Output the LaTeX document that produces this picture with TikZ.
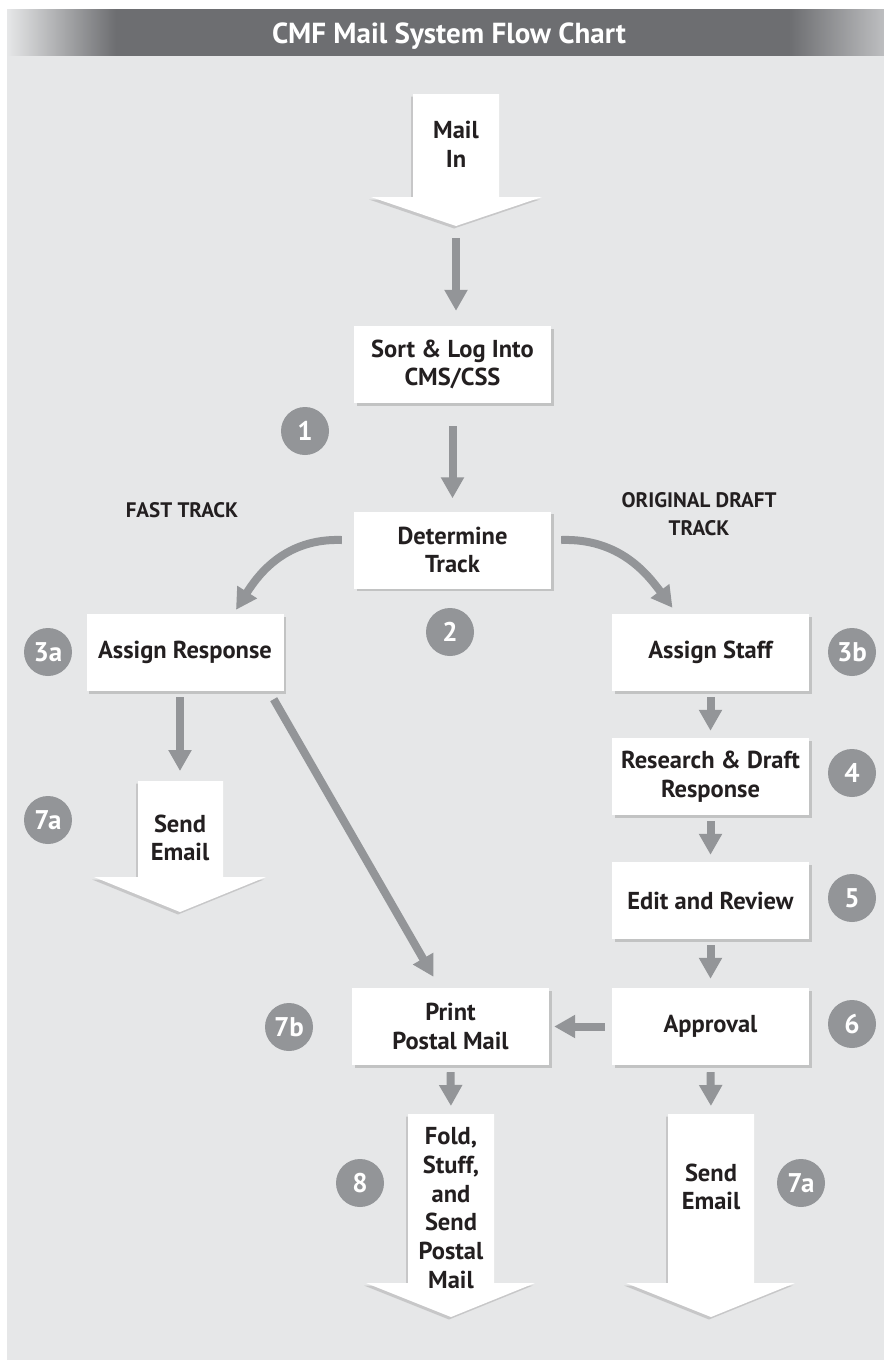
\documentclass[tikz,border=0pt]{standalone}
\usepackage{fontspec}
\setmainfont{PT Sans}
\usetikzlibrary{arrows.meta,shadows}
\definecolor{panelgray}{HTML}{E6E7E8}
\definecolor{bargray}{HTML}{6D6E71}
\definecolor{barend}{HTML}{BDBEC0}
\definecolor{flowgray}{HTML}{939598}
\definecolor{inkblack}{HTML}{231F20}
\pgfdeclarehorizontalshading{titlebar}{100bp}{color(0bp)=(panelgray); color(25bp)=(panelgray);
  color(31.2bp)=(bargray); color(69.6bp)=(bargray); color(75bp)=(barend); color(100bp)=(barend)}
\tikzset{
  box/.style={fill=white, minimum width=197pt, minimum height=77pt, inner sep=2pt, align=center, text=inkblack,
    font=\bfseries\fontsize{24.5}{28.5}\selectfont, drop shadow={shadow xshift=2.5pt,shadow yshift=-2.5pt,opacity=.35}},
  bigarrow/.style={fill=white, drop shadow={shadow xshift=-2pt,shadow yshift=-2.5pt,opacity=.3}},
  bigtext/.style={align=center, text=inkblack, font=\bfseries\fontsize{24.5}{28.8}\selectfont},
  num/.style={circle, fill=flowgray, text=white, minimum size=48pt, inner sep=0pt, font=\bfseries\fontsize{27}{27}\selectfont},
  tracklabel/.style={align=center, text=inkblack, font=\bfseries\fontsize{21}{28}\selectfont},
  flow/.style={draw=flowgray, line width=8pt, -{Triangle[width=22pt,length=21pt]}},
}
\begin{document}
\begin{tikzpicture}[x=1pt,y=-1pt]
\useasboundingbox (0,0) rectangle (884,1361);
% panel and title bar
\fill[panelgray] (7,9) rectangle (884,1360);
\shade[shading=titlebar] (7,9) rectangle (884,55);
\node[anchor=base, text=white, font=\bfseries\fontsize{29}{32}\selectfont] (title) at (449,43) {CMF Mail System Flow Chart};

% big arrows
\fill[bigarrow] (413,94) -- (499,94) -- (499,197) -- (542,197) -- (456,226) -- (371,197) -- (413,197) -- cycle;
\node[bigtext] (mailin) at (456,144) {Mail\\In};
\coordinate (mailtip) at (456,226);
\fill[bigarrow] (138,781) -- (223,781) -- (223,877) -- (266,877) -- (180,912) -- (94,877) -- (138,877) -- cycle;
\node[bigtext] (emailA) at (180,838) {Send\\Email};
\coordinate (emailAtop) at (180,781);
\fill[bigarrow] (408,1114) -- (494,1114) -- (494,1283) -- (535,1283) -- (451,1317) -- (366,1283) -- (408,1283) -- cycle;
\node[bigtext] (fold) at (451,1208) {Fold,\\Stuff,\\and\\Send\\Postal\\Mail};
\coordinate (foldtop) at (451,1114);
\fill[bigarrow] (668,1114) -- (754,1114) -- (754,1283) -- (795,1283) -- (711,1317) -- (626,1283) -- (668,1283) -- cycle;
\node[bigtext] (emailB) at (711,1187) {Send\\Email};
\coordinate (emailBtop) at (711,1114);

% boxes
\node[box] (sort) at (452.5,364.5) {Sort \& Log Into\\CMS/CSS};
\node[box] (track) at (452.5,550) {Determine\\Track};
\node[box] (fast) at (185,652.5) {Assign Response};
\node[box] (staff) at (710.5,652.5) {Assign Staff};
\node[box] (draft) at (710.5,776.5) {Research \& Draft\\Response};
\node[box] (edit) at (710.5,900.5) {Edit and Review};
\node[box] (approve) at (710.5,1026.5) {Approval};
\node[box] (print) at (450.5,1026.5) {Print\\Postal Mail};

% track labels
\node[tracklabel] (fastlbl) at (182,510) {FAST TRACK};
\node[tracklabel] (origlbl) at (699,514) {ORIGINAL DRAFT\\TRACK};

% step numbers
\node[num] (n1) at (305,431) {1};
\node[num] (n2) at (450,632) {2};
\node[num] (n3a) at (48,652) {3a};
\node[num] (n3b) at (852,652) {3b};
\node[num] (n4) at (852,773) {4};
\node[num] (n5) at (852,898) {5};
\node[num] (n6) at (852,1024) {6};
\node[num] (n7aleft) at (48,820) {7a};
\node[num] (n7b) at (289,1027) {7b};
\node[num] (n8) at (360,1183) {8};
\node[num] (n7aright) at (801,1183) {7a};

% connectors
\draw[flow,shorten <=12pt,shorten >=15pt] (mailtip) -- (mailtip |- sort.north);
\draw[flow,shorten <=23pt,shorten >=13pt] (sort.south) -- (track.north);
\draw[flow] ([shift={(-12,-10)}]track.west) .. controls (285,538) and (258,575) .. ([shift={(51,-4)}]fast.north);
\draw[flow] ([shift={(10,-10)}]track.east) .. controls (620,538) and (648,575) .. ([shift={(-38,-6)}]staff.north);
\draw[flow,shorten <=6pt,shorten >=10pt] (fast.south -| emailAtop) -- (emailAtop);
\draw[flow] ([shift={(-10,8)}]fast.south east) -- ([shift={(-17,-11)}]print.north);
\draw[flow,shorten <=6pt,shorten >=7pt] (staff.south) -- (draft.north);
\draw[flow,shorten <=6pt,shorten >=7pt] (draft.south) -- (edit.north);
\draw[flow,shorten <=6pt,shorten >=9pt] (edit.south) -- (approve.north);
\draw[flow,shorten <=7pt,shorten >=5pt] (approve.west) -- (print.east);
\draw[flow,shorten <=7pt,shorten >=8pt] (print.south) -- (foldtop);
\draw[flow,shorten <=7pt,shorten >=8pt] (approve.south) -- (emailBtop);
\end{tikzpicture}
\end{document}
